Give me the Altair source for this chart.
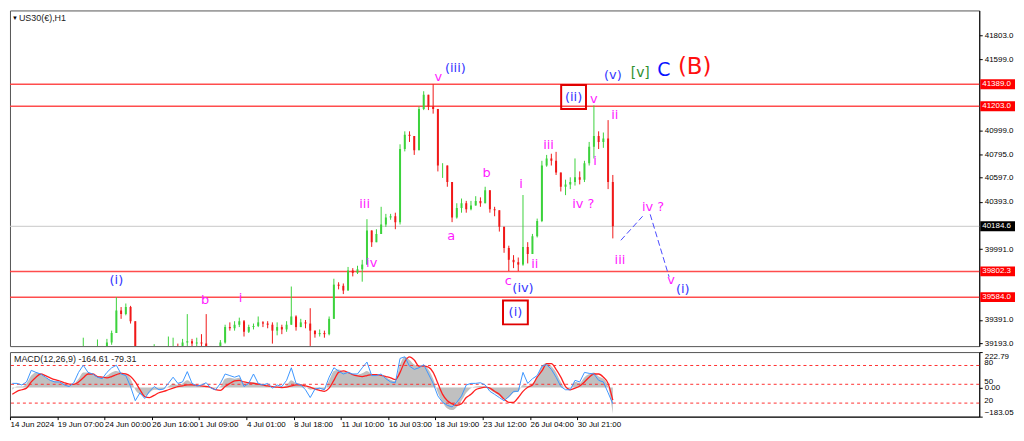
import altair as alt
import pandas as pd

# ---------------- data ----------------
chart_title = "US30(€),H1"
first_open = 39000.0
close = [39020, 39040, 39000, 39030, 39060, 39050, 39010, 39040, 39070, 39060,
         39080, 39090, 39070, 39100, 39110, 39130, 39120, 39130, 39150, 39140,
         39200, 39280, 39470, 39440, 39500, 39380, 39150, 39080, 39050, 39090,
         39140, 39100, 39080, 39150, 39170, 39150, 39200, 39210, 39190, 39200,
         39190, 39170, 39100, 39110, 39200, 39330, 39320, 39350, 39380, 39290,
         39330, 39340, 39370, 39360, 39350, 39300, 39330, 39310, 39350, 39420,
         39330, 39370, 39360, 39300, 39270, 39280, 39270, 39400, 39690, 39680,
         39640, 39810, 39790, 39820, 39860, 40150, 40050, 40120, 40200, 40260,
         40270, 40220, 40840, 40960, 40950, 40830, 41180, 41300, 41200, 41180,
         40700, 40700, 40560, 40260, 40340, 40380, 40330, 40360, 40400, 40380,
         40490, 40330, 40320, 40180, 40000, 39900, 39880, 39860, 40010, 39950,
         40100, 40230, 40700, 40760, 40740, 40640, 40520, 40540, 40560, 40600,
         40580, 40720, 40860, 40950, 40900, 40930, 40560, 40184.6]
high = [39080, 39070, 39050, 39060, 39090, 39090, 39060, 39070, 39100, 39100,
        39110, 39120, 39110, 39130, 39140, 39240, 39150, 39160, 39225, 39170,
        39230, 39300, 39584, 39500, 39530, 39510, 39380, 39150, 39100, 39120,
        39185, 39150, 39120, 39250, 39240, 39190, 39230, 39440, 39230, 39240,
        39270, 39440, 39150, 39140, 39220, 39350, 39370, 39380, 39410, 39390,
        39350, 39360, 39420, 39380, 39380, 39370, 39370, 39350, 39380, 39674,
        39430, 39400, 39390, 39490, 39300, 39310, 39300, 39420, 39740, 39710,
        39700, 39840, 39830, 39850, 39900, 40245, 40120, 40160, 40350, 40290,
        40290, 40300, 40880, 40990, 40990, 40950, 41200, 41330, 41300, 41389,
        41180, 40720, 40700, 40560, 40380, 40420, 40400, 40400, 40440, 40430,
        40520, 40490, 40350, 40320, 40180, 40020, 39940, 39920, 40450, 40050,
        40120, 40250, 40740, 40790, 40800, 40816, 40640, 40580, 40600, 40760,
        40650, 40740, 40900, 41210, 40990, 40980, 41085, 40620]
low = [38980, 39000, 38970, 38990, 39020, 39020, 38980, 39000, 39030, 39030,
       39040, 39060, 39040, 39060, 39080, 39100, 39090, 39100, 39110, 39110,
       39130, 39180, 39280, 39400, 39430, 39360, 39120, 39050, 39020, 39040,
       39080, 39070, 39050, 39070, 39100, 39110, 39140, 39170, 39150, 39160,
       39150, 39120, 39060, 39070, 39100, 39190, 39300, 39300, 39330, 39250,
       39280, 39310, 39330, 39330, 39320, 39190, 39260, 39270, 39290, 39350,
       39300, 39330, 39320, 39170, 39240, 39250, 39240, 39260, 39400, 39650,
       39610, 39640, 39760, 39780, 39715, 39860, 40010, 40080, 40120, 40180,
       40240, 40160, 40200, 40820, 40900, 40790, 40830, 41170, 41170, 41140,
       40650, 40595, 40520, 40220, 40250, 40300, 40300, 40320, 40360, 40350,
       40380, 40300, 40270, 40140, 39960, 39805, 39830, 39805, 39850, 39870,
       39950, 40090, 40220, 40690, 40700, 40620, 40480, 40449, 40500, 40530,
       40540, 40560, 40700, 40760, 40840, 40850, 40500, 40082]

macd_hist = [-14, 6, 6, 26, 75, 95, 85, 65, 49, 41,
             35, 26, 16, 22, 55, 95, 95, 85, 69, 61,
             75, 95, 104, 95, 85, 55, -14, -43, -53, -33,
             -14, -14, -10, 6, 26, 16, 26, 45, 26, 16,
             10, 12, 0, -4, 6, 55, 61, 55, 61, 26,
             30, 35, 26, 20, 16, 2, 6, 2, 16, 45,
             26, 22, 6, -14, -10, -10, -14, 45, 104, 114,
             100, 95, 85, 81, 89, 104, 85, 81, 75, 65,
             49, 41, 144, 193, 173, 144, 134, 140, 114, 55,
             -33, -93, -132, -142, -122, -83, -33, -4, 6, 10,
             6, -14, -33, -53, -73, -63, -33, -24, 16, 10,
             26, 65, 134, 154, 134, 95, 35, -4, -4, 35,
             30, 65, 85, 95, 69, 55, 6, -164.61]
macd_signal = [-43, -24, -14, -4, 35, 65, 85, 75, 61, 49,
               41, 30, 22, 20, 35, 61, 85, 85, 69, 65,
               61, 69, 81, 89, 85, 69, 35, -14, -57, -63,
               -49, -33, -24, -14, -4, 6, 10, 16, 16, 14,
               10, 6, 0, -14, -18, 6, 26, 41, 45, 35,
               30, 26, 22, 16, 10, 6, 2, 0, 2, 10,
               16, 16, 10, 2, -10, -18, -24, -4, 45, 95,
               104, 95, 81, 73, 69, 75, 81, 81, 77, 69,
               61, 49, 95, 163, 193, 173, 134, 134, 128, 95,
               26, -43, -83, -102, -112, -102, -63, -43, -14, -4,
               2, -4, -24, -43, -73, -93, -93, -63, -24, 2,
               16, 65, 104, 150, 150, 114, 65, 6, -14, -4,
               10, 35, 65, 85, 85, 65, 26, -79.31]
macd_fast = [26, 26, 16, 35, 108, 95, 85, 65, 45, 35,
             35, 16, 6, 30, 95, 140, 95, 85, 65, 55,
             95, 124, 140, 85, 75, 6, -83, -33, -69, -24,
             6, -14, -10, 26, 65, 26, 35, 100, 26, 10,
             16, 30, -4, -14, 26, 85, 75, 65, 75, 6,
             26, 85, 26, 16, 26, -4, 16, 6, 45, 124,
             26, 16, -14, -63, -10, -4, -14, 65, 124, 104,
             85, 95, 85, 85, 124, 160, 75, 75, 85, 55,
             35, 30, 183, 193, 134, 114, 124, 144, 85, 26,
             -53, -93, -112, -122, -93, -53, 16, 26, 26, 30,
             16, -24, -43, -63, -83, -57, -24, -24, 95, 26,
             55, 75, 134, 144, 114, 65, 6, -14, -14, 45,
             35, 95, 89, 85, 45, 35, -33, -102]

time_labels = ["14 Jun 2024", "19 Jun 07:00", "24 Jun 00:00", "26 Jun 16:00",
               "1 Jul 09:00", "4 Jul 01:00", "8 Jul 18:00", "11 Jul 10:00",
               "16 Jul 03:00", "18 Jul 19:00", "23 Jul 12:00", "26 Jul 04:00",
               "30 Jul 21:00"]
time_label_bars = [0, 10, 20, 30, 40, 50, 60, 70, 80, 90, 100, 110, 120]

price_ticks = [41803.0, 41599.0, 40999.0, 40795.0, 40597.0, 40393.0,
               39991.0, 39391.0, 39193.0]
red_levels = [41389.0, 41203.0, 39802.3, 39584.0]
last_price = 40184.6
osc_levels = [80, 50, 20]
macd_ticks = [222.79, 0.0, -183.05]

# wave labels: text, bar position, price
minor_text = ["b", "i", "iii", "iv", "v", "a", "b", "c", "i", "ii", "iii",
              "iv ?", "v", "i", "ii", "iii", "iv ?", "v"]
minor_bar = [41.25, 48.75, 75.0, 76.5, 90.6, 93.3, 100.8, 105.4, 108.1, 111.0,
             113.9, 121.25, 123.5, 123.75, 127.9, 129.0, 136.0, 139.8]
minor_price = [39560, 39576, 40376, 39870, 41452, 40098, 40637, 39723, 40547,
               39862, 40873, 40376, 41265, 40735, 41126, 39895, 40351, 39731]

blue_text = ["(i)", "(iii)", "(iv)", "(v)", "(i)"]
blue_bar = [22.5, 94.2, 108.5, 127.5, 142.3]
blue_price = [39731, 41526, 39658, 41469, 39650]

boxed_text = ["(i)", "(ii)"]
boxed_bar = [106.9, 119.2]
boxed_price = [39454, 41281]

green_text, green_bar, green_price = ["[v]"], [133.3], [41485]
c_text, c_bar, c_price = ["C"], [138.3], [41509]
b_text, b_bar, b_price = ["(B)"], [144.8], [41534]

proj_seg = [1, 1, 2, 2]
proj_bar = [129.2, 133.8, 135.4, 139.4]
proj_price = [40066, 40270, 40286, 39756]

# ---------------- tables ----------------
n = len(close)
opens = [first_open] + close[:-1]
candles = pd.DataFrame({
    "bar": [i + 0.5 for i in range(n)],
    "open": opens,
    "close": close,
    "high": [max(h, o, c) for h, o, c in zip(high, opens, close)],
    "low": [min(l, o, c) for l, o, c in zip(low, opens, close)],
    "dir": ["up" if c >= o else "down" for o, c in zip(opens, close)],
})
macd_df = pd.DataFrame({"bar": [i + 0.5 for i in range(n)], "hist": macd_hist,
                        "signal": macd_signal, "fast": macd_fast})

W, H_MAIN, H_MACD = 976, 338, 65
XDOM = [0, 205]
YDOM = [39168.6, 42015.0]
LBL_FONT = "Liberation Sans"
WAVE_FONT = "DejaVu Sans"

xs = alt.Scale(domain=XDOM, nice=False, zero=False, padding=0)
ys = alt.Scale(domain=YDOM, nice=False, zero=False)
yaxis = alt.Axis(orient="right", values=price_ticks, format=".1f", title=None,
                 grid=False, tickSize=3, labelPadding=2, labelFontSize=8,
                 labelFont=LBL_FONT, labelColor="#000", domainColor="#000",
                 tickColor="#000")


def X(f):
    return alt.X(f"{f}:Q", scale=xs, axis=None)


def Y(f):
    return alt.Y(f"{f}:Q", scale=ys, axis=yaxis)


dir_color = alt.Color("dir:N", scale=alt.Scale(domain=["up", "down"],
                      range=["#3cd23c", "#f01818"]), legend=None)

lv_rule = alt.Chart(pd.DataFrame({"p": red_levels})).mark_rule(
    color="#ff3a3a", strokeWidth=1.5, opacity=0.9).encode(y=Y("p"))
last_rule = alt.Chart(pd.DataFrame({"p": [last_price]})).mark_rule(
    color="#c8c8c8", strokeWidth=1).encode(y=Y("p"))
wicks = alt.Chart(candles).mark_rule(strokeWidth=1, clip=True).encode(
    x=X("bar"), y=Y("low"), y2="high", color=dir_color)
bodies = alt.Chart(candles).mark_bar(width=2, clip=True).encode(
    x=X("bar"), y=Y("open"), y2="close", color=dir_color)

proj = alt.Chart(pd.DataFrame({"seg": proj_seg, "bar": proj_bar, "p": proj_price})).mark_line(
    color="#4b4bff", strokeWidth=1, strokeDash=[6, 3]).encode(
    x=X("bar"), y=Y("p"), detail="seg:N")


def labels(texts, bars, prices, color, size):
    df = pd.DataFrame({"t": texts, "bar": bars, "p": prices})
    return alt.Chart(df).mark_text(color=color, fontSize=size, font=WAVE_FONT,
                                   baseline="middle", align="center").encode(
        x=X("bar"), y=Y("p"), text="t:N")


minor = labels(minor_text, minor_bar, minor_price, "#ff1aff", 13)
blue = labels(blue_text, blue_bar, blue_price, "#3434ff", 13)
boxed = labels(boxed_text, boxed_bar, boxed_price, "#3434ff", 13)
green = labels(green_text, green_bar, green_price, "#2f8f2f", 14)
cwave = labels(c_text, c_bar, c_price, "#0a14ff", 19)
bwave = labels(b_text, b_bar, b_price, "#ff1010", 23)

boxes = alt.Chart(pd.DataFrame({"bar": boxed_bar, "p": boxed_price})).mark_rect(
    fill="transparent", stroke="#e00000", strokeWidth=2,
    xOffset=-12.5, x2Offset=12.5, yOffset=-12, y2Offset=12).encode(
    x=X("bar"), x2="bar", y=Y("p"), y2="p")


def price_tag(values, fill):
    df = pd.DataFrame({"p": values})
    rect = alt.Chart(df).mark_rect(yOffset=-5, y2Offset=5, color=fill).encode(
        x=alt.value(W + 1), x2=alt.value(W + 36), y=Y("p"), y2="p")
    txt = alt.Chart(df).mark_text(align="left", baseline="middle", color="white",
                                  fontSize=8, font=LBL_FONT).encode(
        x=alt.value(W + 3), y=Y("p"), text=alt.Text("p:Q", format=".1f"))
    return [rect, txt]


tags = price_tag(red_levels, "#ff0000") + price_tag([last_price], "#000000")

title_tri = alt.Chart(pd.DataFrame({"t": ["▼"]})).mark_text(
    fontSize=6, color="#000", align="left", baseline="middle").encode(
    x=alt.value(2), y=alt.value(8), text="t:N")
title_txt = alt.Chart(pd.DataFrame({"t": [chart_title]})).mark_text(
    fontSize=9, font=LBL_FONT, color="#222", align="left", baseline="middle").encode(
    x=alt.value(9), y=alt.value(8), text="t:N")

main = alt.layer(lv_rule, last_rule, wicks, bodies, proj, minor, blue, boxed,
                 green, cwave, bwave, boxes, *tags,
                 title_tri, title_txt).properties(width=W, height=H_MAIN)

# ---------------- MACD panel ----------------
label_expr = ("[" + ",".join(f"'{t}'" for t in time_labels) + "][indexof(["
              + ",".join(str(b) for b in time_label_bars) + "], datum.value)]")
xaxis_b = alt.Axis(values=time_label_bars, labelExpr=label_expr, labelAlign="left",
                   labelFontSize=8, labelFont=LBL_FONT, labelColor="#000",
                   tickSize=3, labelPadding=1, title=None, grid=False,
                   labelOverlap=False, labelFlush=False, domainColor="#000",
                   tickColor="#000")
ms = alt.Scale(domain=[macd_ticks[-1], macd_ticks[0]], nice=False, zero=False)
maxis = alt.Axis(orient="right", values=macd_ticks, format=".2f", title=None,
                 grid=False, tickSize=3, labelPadding=2, labelFontSize=8,
                 labelFont=LBL_FONT, labelColor="#000", labelFlush=True,
                 domainColor="#000", tickColor="#000")
ls = alt.Scale(domain=[-1.6, 101.4], nice=False, zero=False)


def XB(f):
    return alt.X(f"{f}:Q", scale=xs, axis=xaxis_b)


hist = alt.Chart(macd_df).mark_area(color="#c0c0c0", interpolate="monotone").encode(
    x=XB("bar"), y=alt.Y("hist:Q", scale=ms, axis=maxis), y2=alt.datum(0))
sig = alt.Chart(macd_df).mark_line(color="#ff2020", strokeWidth=1.3,
                                   interpolate="monotone").encode(
    x=XB("bar"), y=alt.Y("signal:Q", scale=ms, axis=None))
fast = alt.Chart(macd_df).mark_line(color="#3c96ff", strokeWidth=1).encode(
    x=XB("bar"), y=alt.Y("fast:Q", scale=ms, axis=None))
osc_df = pd.DataFrame({"v": osc_levels})
lvl = alt.Chart(osc_df).mark_rule(color="#ff3030", strokeDash=[3, 3], strokeWidth=1).encode(
    y=alt.Y("v:Q", scale=ls, axis=None))
lvl_txt = alt.Chart(osc_df).mark_text(align="left", baseline="bottom", fontSize=8,
                                      font=LBL_FONT, color="#000", dy=2).encode(
    x=alt.value(W + 5), y=alt.Y("v:Q", scale=ls, axis=None), text="v:Q")
macd_title = f"MACD(12,26,9) {macd_hist[-1]:.2f} {macd_signal[-1]:.2f}"
mtxt = alt.Chart(pd.DataFrame({"t": [macd_title]})).mark_text(
    fontSize=9, font=LBL_FONT, color="#222", align="left", baseline="middle").encode(
    x=alt.value(4), y=alt.value(7), text="t:N")

macd = alt.layer(hist, lvl, sig, fast, lvl_txt, mtxt).resolve_scale(
    y="independent").properties(width=W, height=H_MACD)

chart = alt.vconcat(main, macd, spacing=3).properties(
    padding=0, background="white").configure_view(stroke="#555", strokeWidth=1)

chart.save("out.html", embed_options={"renderer": "svg", "actions": False})
